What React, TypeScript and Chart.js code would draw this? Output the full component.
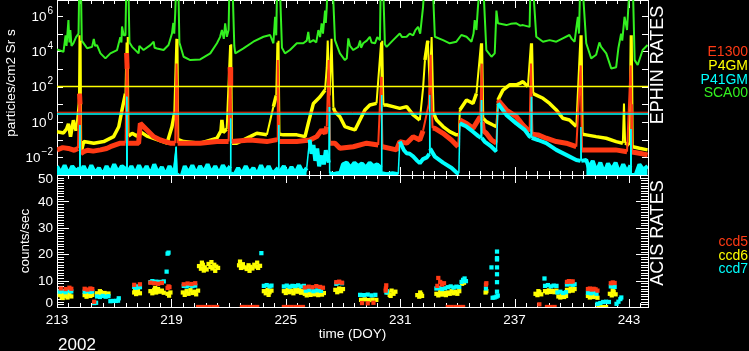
import React, { useEffect, useRef } from "react";
import { Chart, registerables } from "chart.js";

Chart.register(...registerables);

// ---------- axis / label data ----------
const DOY_MIN = 213;
const DOY_MAX = 244;
const doyTickLabels = [213, 219, 225, 231, 237, 243];
const ephinTickExps = [6, 4, 2, 0, -2];
const ephinDecades = [-3, -2, -1, 0, 1, 2, 3, 4, 5, 6];
const acisTickLabels = [0, 10, 20, 30, 40, 50];
const ephinLegend = ["E1300", "P4GM", "P41GM", "SCA00"];
const acisLegend = ["ccd5", "ccd6", "ccd7"];
const YEAR_LABEL = "2002";
const X_TITLE = "time (DOY)";
const Y_TITLE_TOP = "particles/cm2 Sr s";
const Y_TITLE_BOT = "counts/sec";
const PANEL_TOP = "EPHIN RATES";
const PANEL_BOT = "ACIS RATES";

// ---------- EPHIN rates: [DOY, log10(particles/cm2 Sr s)] ----------
const sca00: number[][] = [
  [213.0, 4.1], [213.34, 3.97], [213.45, 4.9], [213.5, 4.3], [213.6, 5.76], [213.65, 4.5], [213.7, 5.2], [213.76, 4.3], [213.86, 4.45],
  [214.0, 4.8], [214.13, 5.0], [214.17, 8], [214.25, 8], [214.3, 4.6], [214.4, 4.45], [214.58, 4.17], [214.84, 4.25],
  [214.93, 4.7], [215.0, 4.3], [215.1, 4.35], [215.28, 3.88], [215.54, 3.6], [215.8, 3.88], [216.15, 4.07], [216.32, 4.8],
  [216.38, 4.5], [216.41, 5.4], [216.5, 4.9], [216.59, 4.9], [216.64, 8], [216.74, 8], [216.8, 4.5], [216.94, 4.25],
  [217.28, 3.88], [217.32, 4.3], [217.37, 4.25], [217.54, 4.07], [217.9, 4.35], [218.07, 4.54], [218.12, 4.2], [218.25, 4.16],
  [218.59, 4.07], [218.85, 4.35], [219.03, 5.0], [219.1, 5.6], [219.15, 5.0], [219.2, 6.14], [219.26, 8], [219.36, 8],
  [219.42, 4.5], [219.64, 3.69], [219.99, 3.5], [220.51, 3.54], [221.04, 3.88], [221.39, 4.45], [221.55, 4.8], [221.65, 5.2],
  [221.75, 4.7], [221.82, 5.58], [221.91, 4.82], [222.0, 5.2], [222.05, 8], [222.2, 8], [222.3, 4.3], [222.35, 3.88],
  [222.78, 4.16], [223.3, 4.54], [223.83, 4.82], [224.18, 4.92], [224.35, 4.45], [224.44, 5.95], [224.5, 4.9],
  [224.55, 8], [224.68, 8], [224.8, 4.2], [224.96, 3.88], [225.22, 4.07], [225.58, 4.45], [225.92, 4.45], [226.1, 4.6],
  [226.18, 5.1], [226.25, 4.5], [226.45, 4.63], [226.6, 4.5], [226.71, 5.2], [226.8, 4.8], [226.88, 5.58], [226.95, 5.0],
  [227.06, 6.3], [227.1, 5.6], [227.15, 6.5], [227.2, 8], [227.45, 8], [227.58, 4.63], [227.84, 3.88], [228.1, 3.5],
  [228.2, 3.6], [228.28, 4.73], [228.37, 4.3], [228.54, 4.07], [228.8, 4.25], [228.9, 4.6], [228.95, 4.2], [229.06, 4.45],
  [229.25, 4.6], [229.41, 4.82], [229.5, 4.5], [229.68, 4.45], [229.8, 4.8], [229.94, 4.63], [229.98, 8], [230.1, 8],
  [230.2, 4.4], [230.29, 4.25], [230.63, 4.63], [230.98, 5.0], [231.1, 4.8], [231.34, 4.82], [231.5, 5.0], [231.68, 4.9],
  [231.8, 5.2], [231.94, 5.38], [232.05, 5.0], [232.2, 6.5], [232.29, 8], [232.7, 8], [232.82, 4.82], [233.25, 4.63],
  [233.6, 4.45], [233.95, 4.54], [234.21, 4.92], [234.48, 4.82], [234.74, 4.54], [234.85, 5.0], [234.91, 5.76],
  [235.0, 5.2], [235.08, 6.5], [235.2, 8], [235.35, 8], [235.52, 4.07], [235.79, 3.69], [235.96, 3.88], [236.05, 6.3],
  [236.13, 5.58], [236.57, 5.48], [236.8, 5.55], [237.09, 5.58], [237.3, 5.45], [237.44, 5.48], [237.79, 5.38],
  [237.84, 8], [237.95, 8], [238.14, 4.82], [238.49, 4.54], [238.84, 4.63], [239.19, 4.54], [239.53, 4.73], [239.88, 4.92],
  [240.0, 4.7], [240.15, 4.54], [240.25, 5.4], [240.32, 5.95], [240.38, 5.0], [240.45, 8], [240.55, 8], [240.76, 4.45],
  [241.02, 3.6], [241.28, 3.8], [241.45, 4.5], [241.54, 4.25], [241.81, 3.88], [242.07, 3.03], [242.33, 3.1],
  [242.45, 4.2], [242.59, 5.0], [242.65, 4.6], [242.77, 5.95], [242.9, 5.2], [243.05, 8], [243.2, 8], [243.3, 3.5],
  [243.46, 3.22], [243.72, 4.07], [243.98, 4.35],
];

const p4gm: number[][] = [
  [213.0, -0.55], [213.34, -0.62], [213.5, -0.4], [213.6, -0.1], [213.71, -0.83], [213.86, 0.1], [214.0, -0.5],
  [214.15, 1.24], [214.18, 4.9], [214.21, 0.8], [214.24, 4.6], [214.27, -1.7], [214.4, -1.11],
  [214.93, -1.2], [215.45, -1.11], [215.97, -0.83], [216.24, -0.27], [216.41, 0.68], [216.59, 1.6], [216.65, 4.5],
  [216.68, 2.0], [216.71, 4.8], [216.75, -0.8], [216.94, -0.64], [217.2, -0.8], [217.37, -0.55],
  [217.72, -0.8], [218.25, -1.0], [218.77, -1.2], [219.03, -0.27], [219.15, 0.42], [219.26, 4.7], [219.29, 2.5],
  [219.32, 4.7], [219.36, -1.0], [219.64, -1.11], [220.51, -1.2], [221.39, -0.92], [221.6, -0.5], [221.65, 0.11],
  [221.72, -0.6], [221.9, -0.4], [222.08, 4.35], [222.11, 1.5], [222.14, 4.4], [222.18, -1.2], [222.43, -1.2],
  [223.13, -0.83], [223.48, -0.64], [224.01, -0.72], [224.35, 0.86], [224.5, 1.5], [224.56, 4.5], [224.59, 2.0],
  [224.62, 4.6], [224.67, -0.7], [224.87, -0.73], [225.58, -0.73], [226.01, -0.83], [226.18, -0.08], [226.45, 1.05],
  [226.8, 1.43], [227.06, 1.8], [227.15, 3.1], [227.2, 4.6], [227.3, 1.5], [227.4, 4.7], [227.5, 0.8], [227.58, 0.58],
  [227.84, 0.3], [228.1, -0.26], [228.37, -0.36], [228.63, -0.45], [228.89, 0.11], [229.15, 0.68], [229.41, 0.96],
  [229.76, 1.05], [230.0, 4.5], [230.03, 2.0], [230.06, 4.6], [230.12, 0.96], [230.29, 0.96], [230.63, 0.87], [230.98, 0.77],
  [231.34, 0.87], [231.68, 0.4], [232.03, 0.11], [232.2, 1.9], [232.3, 3.5], [232.45, 4.6], [232.55, 2.0],
  [232.65, 4.8], [232.75, 0.5], [232.91, 0.11], [233.25, -0.26], [233.6, -0.55], [233.95, -0.73], [234.08, -0.73],
  [234.13, 0.68], [234.48, 1.24], [234.82, 1.05], [235.0, 1.6], [235.24, 4.45], [235.27, 2.0], [235.3, 4.45],
  [235.36, 0.2], [235.52, 0.02], [235.87, -0.17], [236.05, -0.26], [236.13, 1.24], [236.39, 1.8], [236.74, 2.1],
  [237.09, 2.1], [237.3, 2.2], [237.44, 2.28], [237.7, 2.0], [237.86, 4.45], [237.89, 2.5], [237.92, 4.45],
  [237.98, 1.6], [238.14, 1.52], [238.49, 1.34], [238.84, 1.05], [239.19, 0.68], [239.53, 0.21], [239.88, 0.11],
  [240.24, -0.26], [240.46, 4.9], [240.49, 2.0], [240.52, 4.9], [240.57, -0.7], [240.76, -0.73], [241.28, -0.83],
  [241.81, -0.92], [242.33, -1.11], [242.68, -1.2], [242.74, 1.05], [242.8, -1.2], [243.03, -1.3], [243.09, 4.9],
  [243.12, 2.0], [243.15, 4.9], [243.2, -1.4], [243.55, -1.49], [243.98, -1.58],
];

const e1300: number[][] = [
  [213.0, -1.58], [213.3, -1.45], [213.6, -1.5], [213.9, -1.6], [214.1, -1.5], [214.18, 1.6], [214.21, 1.0],
  [214.24, -1.8], [214.4, -1.68], [214.6, -1.6], [214.9, -1.65], [215.28, -1.58], [215.6, -1.5], [215.8, -1.4],
  [216.32, -1.2], [216.6, -1.2], [216.65, 3.9], [216.68, 3.0], [216.71, -1.2], [217.0, -1.2], [217.28, -1.2],
  [217.37, -0.08], [217.72, -0.45], [218.07, -0.83], [218.42, -1.02], [218.94, -1.2], [219.2, -1.2], [219.27, 3.3],
  [219.3, 2.0], [219.33, -1.2], [219.64, -1.2], [220.51, -1.2], [221.39, -1.11], [222.0, -1.11], [222.08, 3.1],
  [222.11, 2.0], [222.15, -1.11], [223.13, -1.02], [224.01, -1.11], [224.55, -1.0], [224.58, 3.5], [224.61, 2.0],
  [224.65, -1.11], [225.58, -1.11], [226.27, -1.02], [226.62, -0.83], [226.88, -0.45], [227.06, -0.64],
  [227.15, -0.26], [227.25, 3.5], [227.28, 2.0], [227.32, -1.2], [227.58, -1.2], [227.84, -1.49], [228.54, -1.4],
  [229.24, -1.2], [229.85, -1.3], [230.0, 2.55], [230.03, 1.0], [230.07, -1.4], [230.81, -1.58], [230.98, -1.11],
  [231.34, -1.2], [231.68, -0.83], [232.03, -1.02], [232.2, -0.5], [232.5, 1.0], [232.6, 3.8], [232.64, 1.5],
  [232.7, -0.36], [232.82, -0.36], [233.25, -0.64], [233.69, -1.02], [234.04, -1.4], [234.13, 0.11], [234.48, -0.08],
  [234.82, -0.36], [235.2, 0.3], [235.28, 3.3], [235.31, 0.0], [235.36, -0.5], [235.52, -0.64], [235.79, -1.02], [236.05, -1.2],
  [236.13, 1.24], [236.57, 0.68], [237.09, 0.3], [237.44, -0.17], [237.79, -0.55], [237.86, 3.3], [237.9, 1.0],
  [237.94, -0.7], [238.23, -0.73], [238.66, -0.92], [239.19, -1.11], [239.71, -1.2], [240.24, -1.4], [240.47, 3.2],
  [240.5, 1.0], [240.54, -1.58], [240.76, -1.58], [241.5, -1.58], [242.3, -1.58], [242.9, -1.68], [243.09, 3.2],
  [243.12, 1.0], [243.16, -1.7], [243.55, -1.77], [243.98, -1.86],
];

const p41gm: number[][] = [
  [213.0, -2.5], [213.2, -2.9], [213.4, -2.45], [213.6, -2.95], [213.8, -2.5], [214.0, -2.8], [214.18, -2.6],
  [214.2, -0.17], [214.22, -2.9], [214.4, -2.5], [214.6, -2.95], [214.8, -2.45], [215.0, -2.9], [215.2, -2.6],
  [215.4, -3.0], [215.6, -2.5], [215.8, -2.9], [216.0, -2.4], [216.2, -2.85], [216.4, -2.5], [216.64, -2.7],
  [216.66, 1.43], [216.68, -2.9], [216.9, -2.5], [217.1, -2.95], [217.3, -2.45], [217.5, -2.9], [217.7, -2.5],
  [217.9, -3.0], [218.1, -2.4], [218.3, -2.9], [218.5, -2.55], [218.7, -3.0], [218.9, -2.5], [219.1, -2.9],
  [219.25, -1.4], [219.3, -2.95], [219.5, -3.2], [219.7, -2.5], [219.9, -2.9], [220.1, -2.45], [220.3, -2.95],
  [220.5, -2.5], [220.7, -2.85], [220.9, -2.4], [221.1, -2.9], [221.3, -2.5], [221.5, -2.95], [221.7, -2.45],
  [221.9, -2.8], [222.08, -2.5], [222.1, 0.2], [222.12, -2.9], [222.3, -3.0], [222.5, -2.6], [222.7, -2.95],
  [222.9, -2.5], [223.1, -2.9], [223.3, -2.6], [223.5, -3.0], [223.7, -2.45], [223.9, -2.9], [224.1, -2.5],
  [224.3, -2.95], [224.6, -2.6], [224.62, -0.17], [224.64, -2.9], [224.9, -2.5], [225.1, -2.95], [225.3, -2.55],
  [225.5, -2.9], [225.7, -2.45], [225.9, -2.9], [226.1, -2.6], [226.25, -1.0], [226.35, -1.8], [226.45, -1.3],
  [226.55, -2.2], [226.65, -1.5], [226.75, -2.5], [226.9, -1.9], [227.0, -2.4], [227.1, -1.6], [227.26, -2.3],
  [227.28, 0.85], [227.3, -2.9], [227.5, -2.95], [227.7, -2.9], [227.84, -2.95], [228.0, -2.4], [228.2, -2.3],
  [228.4, -2.6], [228.6, -2.3], [228.8, -2.5], [229.0, -2.35], [229.2, -2.6], [229.4, -2.3], [229.6, -2.5],
  [229.8, -2.4], [230.0, -2.6], [230.02, 1.52], [230.04, -2.9], [230.3, -2.95], [230.6, -2.9], [230.9, -2.95],
  [230.98, -1.11], [231.2, -1.6], [231.34, -1.77], [231.5, -1.8], [231.68, -1.95], [231.9, -2.2], [232.03, -2.33],
  [232.2, -2.1], [232.4, -2.0], [232.53, -1.8], [232.55, 1.52], [232.57, -1.5], [232.82, -1.96], [233.25, -2.3], [233.7, -2.6],
  [234.0, -2.9], [234.08, -2.9], [234.13, -0.08], [234.48, -0.26], [234.82, -0.55], [235.1, -0.8], [235.24, -0.9], [235.26, 1.24],
  [235.28, -0.9], [235.43, -1.11], [235.79, -1.4], [236.05, -1.68], [236.13, 1.05], [236.57, 0.4], [237.09, -0.08],
  [237.53, -0.45], [237.79, -0.83], [237.86, -0.85], [237.88, 1.43], [237.9, -0.9], [238.23, -1.02], [238.66, -1.2],
  [239.19, -1.58], [239.71, -1.86], [240.24, -2.15], [240.46, -2.2], [240.48, -0.28], [240.5, -2.2], [240.76, -2.15],
  [240.9, -2.6], [241.1, -2.2], [241.3, -2.8], [241.5, -2.3], [241.7, -2.9], [241.9, -2.35], [242.1, -2.7],
  [242.3, -2.3], [242.5, -2.9], [242.7, -2.4], [242.9, -2.85], [243.08, -2.45], [243.1, -0.4], [243.12, -3.0],
  [243.35, -3.0], [243.55, -2.4], [243.75, -2.7], [243.98, -2.5],
];
// quiet (background-level) intervals of P41GM, in DOY
const p41gmQuiet: number[][] = [[213.0, 226.15], [227.3, 230.95], [240.7, 244.0]];

// horizontal reference levels (log10)
const p4gmLimitLog = 2;
const e1300LimitLog = 0.55;
const p41gmLimitLog = 0.45;

// ---------- ACIS rates: [DOY, counts/sec] ----------
const ccd5: number[][] = [
  [213.2, 7.0], [213.45, 6.8], [213.65, 7.3], [213.75, 6.9],
  [214.45, 6.9], [214.6, 6.6], [214.75, 7.0], [214.85, 6.8], [214.95, 2.0],
  [217.05, 8.4], [217.35, 8.6],
  [217.9, 9.2], [218.1, 9.0], [218.3, 8.8], [218.5, 9.1],
  [218.8, 7.2], [218.85, 7.8], [218.9, 7.5],
  [219.65, 8.6], [219.85, 8.9], [220.05, 8.7], [220.25, 9.0],
  [226.0, 7.4], [226.2, 7.7], [226.4, 7.5], [226.6, 7.9], [226.8, 7.6], [226.95, 7.3],
  [227.65, 9.4], [227.8, 9.6], [227.95, 9.2],
  [229.0, 1.5], [229.3, 1.4], [229.6, 1.6],
  [230.24, 6.2], [230.25, 7.0], [230.27, 8.2],
  [232.95, 8.0], [233.0, 11.0], [233.1, 9.5], [233.2, 8.5], [233.3, 9.0],
  [235.5, 8.5], [235.52, 9.0],
  [238.3, 1.0],
  [239.75, 9.5], [239.85, 9.8], [239.95, 9.6], [240.05, 9.7],
  [240.85, 6.8], [240.95, 7.0], [241.05, 6.6], [241.15, 6.9], [241.25, 6.7], [241.35, 6.2],
  [242.05, 9.0], [242.15, 9.3], [242.25, 9.1],
  [220.4, 0], [220.6, 0], [220.8, 0], [221.0, 0], [221.2, 0], [221.4, 0],
  [222.7, 0], [222.9, 0], [223.1, 0], [223.3, 0], [223.5, 0],
  [224.9, 0], [225.1, 0], [225.3, 0], [225.5, 0], [225.7, 0], [225.9, 0],
  [233.5, 0], [233.7, 0], [233.9, 0], [234.1, 0], [234.3, 0],
  [238.7, 0], [238.9, 0], [239.1, 0],
];

const ccd6: number[][] = [
  [213.15, 4.5], [213.25, 3.8], [213.35, 5.0], [213.45, 4.2], [213.55, 3.6], [213.65, 4.8], [213.75, 4.0], [213.3, 3.4], [213.6, 5.3],
  [214.45, 4.5], [214.55, 3.9], [214.65, 4.8], [214.75, 4.2], [214.85, 4.6], [214.6, 5.0],
  [215.1, 5.2], [215.2, 4.6], [215.3, 5.6], [215.4, 4.9], [215.5, 5.3], [215.6, 4.7], [215.7, 5.1], [215.25, 6.0],
  [217.05, 5.5], [217.15, 4.9], [217.25, 6.2], [217.35, 5.2], [217.1, 6.8],
  [217.9, 6.0], [218.0, 5.2], [218.1, 6.5], [218.2, 5.5], [218.3, 6.8], [218.4, 5.8], [218.5, 6.2], [218.6, 5.4], [218.15, 7.2],
  [218.8, 5.0], [218.88, 4.3], [218.95, 5.5],
  [219.6, 5.5], [219.7, 4.6], [219.8, 6.0], [219.9, 5.0], [220.0, 6.4], [220.1, 5.3], [220.2, 5.8], [220.3, 4.8], [220.4, 6.2],
  [220.45, 15.5], [220.55, 14.5], [220.65, 16.0], [220.75, 15.0], [220.85, 14.2], [220.95, 16.3], [221.05, 15.2],
  [221.15, 14.6], [221.25, 16.0], [221.35, 15.3], [221.45, 14.8], [220.7, 13.8], [221.1, 17.0], [221.3, 13.7], [220.6, 16.8],
  [222.55, 15.8], [222.65, 14.8], [222.75, 16.2], [222.85, 15.0], [222.95, 14.4], [223.05, 15.8], [223.15, 15.2],
  [223.25, 14.6], [223.35, 16.0], [223.45, 15.3], [223.55, 14.8], [223.65, 15.6], [222.6, 17.2], [223.1, 13.7], [223.5, 16.8],
  [223.85, 6.0], [223.95, 5.2], [224.05, 6.5], [224.15, 5.6], [224.25, 6.2], [224.1, 4.6],
  [224.9, 6.0], [225.0, 5.3], [225.1, 6.5], [225.2, 5.6], [225.3, 6.2], [225.4, 5.2], [225.5, 6.4], [225.6, 5.8], [225.7, 6.6], [225.8, 5.4], [225.9, 6.0],
  [226.0, 5.0], [226.1, 4.4], [226.2, 5.4], [226.3, 4.6], [226.4, 5.2], [226.5, 4.8], [226.6, 5.5], [226.7, 4.5], [226.8, 5.0], [226.9, 4.7], [227.0, 5.3],
  [227.6, 6.5], [227.7, 5.6], [227.8, 7.0], [227.9, 6.0], [228.0, 6.8],
  [228.95, 2.7], [229.15, 2.9], [229.35, 2.6], [229.55, 2.8], [229.75, 2.7],
  [230.35, 5.5], [230.45, 4.6], [230.55, 6.2], [230.65, 5.0], [230.75, 5.8], [230.5, 4.2],
  [231.9, 4.5], [232.0, 3.9], [232.1, 4.8], [232.15, 4.2], [232.05, 5.5],
  [232.9, 5.0], [233.0, 4.4], [233.1, 5.6], [233.2, 4.7], [233.3, 5.3], [233.4, 4.5],
  [233.5, 5.5], [233.6, 5.0], [233.7, 6.0], [233.8, 5.2], [233.9, 5.8], [234.0, 5.0], [234.1, 6.0],
  [234.25, 8.8], [234.35, 9.2],
  [235.48, 5.5], [235.52, 6.0],
  [238.1, 5.0], [238.2, 4.5], [238.3, 5.6], [238.4, 4.8], [238.25, 6.0],
  [238.6, 6.0], [238.7, 5.5], [238.8, 6.3], [238.9, 5.7], [239.0, 6.1], [239.1, 5.6], [239.2, 6.2],
  [239.3, 4.0], [239.4, 3.6], [239.5, 4.4], [239.6, 3.8], [239.7, 4.2],
  [239.75, 6.5], [239.85, 6.0], [239.95, 7.0], [240.05, 6.2], [240.15, 6.8],
  [240.85, 4.2], [240.95, 3.6], [241.05, 4.5], [241.15, 3.8], [241.25, 4.3], [241.35, 3.5],
  [242.0, 5.0], [242.1, 4.4], [242.2, 5.8], [242.3, 4.8], [242.15, 6.3],
  [241.4, 0], [241.6, 0], [241.8, 0],
];

const ccd7: number[][] = [
  [213.15, 5.8], [213.3, 6.0], [213.45, 5.6], [213.6, 6.2], [213.75, 5.9],
  [214.45, 5.8], [214.6, 6.0], [214.75, 5.7], [214.85, 5.9],
  [215.1, 4.0], [215.25, 3.8], [215.4, 4.2], [215.55, 3.9], [215.7, 4.1],
  [214.95, 1.5], [215.05, 1.6], [215.8, 2.2], [215.95, 2.3], [216.1, 2.3], [216.2, 2.4], [216.24, 3.3],
  [217.05, 7.6], [217.15, 7.3], [217.25, 7.8], [217.35, 7.5],
  [217.9, 9.4], [218.0, 9.8], [218.1, 9.2], [218.2, 9.6], [218.3, 9.0], [218.4, 9.5], [218.5, 9.3], [218.6, 9.7],
  [218.8, 20.2], [218.85, 20.6], [218.75, 13.4],
  [219.65, 8.0], [219.8, 7.8], [219.95, 8.2], [220.1, 7.9], [220.25, 8.1],
  [223.72, 20.4],
  [223.85, 8.0], [224.0, 8.3], [224.15, 7.8], [224.25, 8.1],
  [224.9, 7.8], [225.05, 8.1], [225.2, 7.7], [225.35, 8.0], [225.5, 7.9], [225.65, 8.2], [225.8, 7.8], [225.95, 8.0],
  [226.05, 6.2], [226.25, 6.4], [226.45, 6.0], [226.65, 6.3], [226.85, 6.1],
  [227.65, 8.8], [227.8, 9.2], [227.95, 9.0],
  [228.9, 4.6], [229.1, 4.5], [229.3, 4.7], [229.5, 4.4], [229.7, 4.6],
  [230.28, 5.5], [230.3, 6.0],
  [232.9, 7.0], [233.05, 7.2], [233.2, 6.8], [233.35, 7.1],
  [233.5, 7.5], [233.65, 7.8], [233.8, 7.4], [233.95, 7.7], [234.1, 7.6],
  [234.22, 9.5], [234.3, 10.3], [234.38, 10.8], [234.45, 9.8],
  [235.5, 7.0],
  [235.79, 15.0], [236.08, 5.8], [236.08, 9.4], [236.08, 12.4], [236.08, 15.0], [236.08, 18.0], [236.08, 18.5], [236.08, 21.0],
  [235.85, 3.5], [235.95, 3.6], [236.05, 3.9], [236.12, 4.3],
  [238.57, 10.8],
  [238.6, 8.0], [238.75, 8.3], [238.9, 7.8], [239.05, 8.1], [239.2, 8.0],
  [239.25, 5.5], [239.4, 5.8], [239.55, 5.3], [239.7, 5.6],
  [239.75, 8.5], [239.9, 8.8], [240.05, 8.4], [240.15, 8.6],
  [240.85, 5.4], [241.0, 5.2], [241.15, 5.5], [241.3, 5.0],
  [242.05, 7.8], [242.15, 8.0], [242.25, 7.6],
  [241.35, 1.2], [241.5, 1.5], [241.65, 1.9], [241.8, 2.0], [241.95, 1.9],
  [242.35, 1.2], [242.45, 2.0], [242.55, 3.0], [242.6, 3.6],
];

// ---------- styles ----------
const RED = "#ff3a14";
const YELLOW = "#ffff00";
const CYAN = "#00ffff";
const GREEN = "#33f020";
const WHITE = "#ffffff";
const FONT = '"Liberation Sans", "DejaVu Sans", sans-serif';

const W = 749;
const H = 351;
const PLOT_LEFT = 57;
const PLOT_RIGHT = 648;
const TOP_BOTTOM = 175;
const BOT_BOTTOM = 307;

const logPts = (arr: number[][]) => arr.map(([x, e]) => ({ x, y: Math.pow(10, e) }));
const linPts = (arr: number[][]) => arr.map(([x, y]) => ({ x, y }));
const levelPts = (e: number) => [{ x: DOY_MIN, y: Math.pow(10, e) }, { x: DOY_MAX, y: Math.pow(10, e) }];
const quietPts = (arr: number[][], spans: number[][]) => {
  const out: any[] = [];
  for (const [s, e] of spans) {
    for (const [x, v] of arr) if (x >= s && x <= e) out.push({ x, y: Math.pow(10, v) });
    out.push({ x: e + 0.001, y: null });
  }
  return out;
};

function drawXTicks(ctx: CanvasRenderingContext2D, chart: any) {
  const a = chart.chartArea;
  const xs = chart.scales.x;
  ctx.beginPath();
  for (let k = 0; k <= 51; k++) {
    const v = DOY_MIN + k * 0.6;
    if (v > DOY_MAX) break;
    const px = Math.round(xs.getPixelForValue(v)) + 0.5;
    const len = k % 10 === 0 ? 8 : 4;
    ctx.moveTo(px, a.top);
    ctx.lineTo(px, a.top + len);
    ctx.moveTo(px, a.bottom);
    ctx.lineTo(px, a.bottom - len);
  }
  ctx.stroke();
}

function drawFrame(ctx: CanvasRenderingContext2D, a: any) {
  ctx.strokeRect(a.left + 0.5, a.top + 0.5, a.right - a.left, a.bottom - a.top);
}

function drawRotated(ctx: CanvasRenderingContext2D, text: string, x: number, y: number, font: string, color: string) {
  ctx.save();
  ctx.translate(x, y);
  ctx.rotate(-Math.PI / 2);
  ctx.font = font;
  ctx.fillStyle = color;
  ctx.textAlign = "center";
  ctx.textBaseline = "middle";
  ctx.fillText(text, 0, 0);
  ctx.restore();
}

const topDecor = {
  id: "topDecor",
  beforeDatasetsDraw(chart: any) {
    const { ctx, chartArea: a } = chart;
    const ys = chart.scales.y;
    ctx.save();
    ctx.strokeStyle = WHITE;
    ctx.lineWidth = 1;
    drawFrame(ctx, a);
    drawXTicks(ctx, chart);
    ctx.beginPath();
    for (const e of ephinDecades) {
      const py = Math.round(ys.getPixelForValue(Math.pow(10, e))) + 0.5;
      ctx.moveTo(a.left, py);
      ctx.lineTo(a.left + 6, py);
      ctx.moveTo(a.right, py);
      ctx.lineTo(a.right - 6, py);
    }
    ctx.stroke();
    ctx.restore();
  },
  afterDraw(chart: any) {
    const { ctx } = chart;
    const ys = chart.scales.y;
    ctx.save();
    ctx.fillStyle = WHITE;
    ctx.textBaseline = "middle";
    ctx.textAlign = "left";
    for (const e of ephinTickExps) {
      const py = ys.getPixelForValue(Math.pow(10, e));
      const expText = e < 0 ? "\u2212" + Math.abs(e) : String(e);
      ctx.font = `10px ${FONT}`;
      const w2 = ctx.measureText(expText).width;
      ctx.font = `13.5px ${FONT}`;
      const w1 = ctx.measureText("10").width;
      const right = 53;
      ctx.fillText("10", right - w2 - w1 - 1, py + 1);
      ctx.font = `10px ${FONT}`;
      ctx.fillText(expText, right - w2, py - 5);
    }
    drawRotated(ctx, Y_TITLE_TOP, 11, 83, `13.5px ${FONT}`, WHITE);
    drawRotated(ctx, PANEL_TOP, 658, 65, `18px ${FONT}`, WHITE);
    const colors = [RED, YELLOW, CYAN, GREEN];
    const ly = [52, 66, 80, 93.5];
    ctx.font = `14px ${FONT}`;
    ctx.textAlign = "right";
    ephinLegend.forEach((t, i) => {
      ctx.fillStyle = colors[i];
      ctx.fillText(t, 748, ly[i]);
    });
    ctx.restore();
  },
};

const botDecor = {
  id: "botDecor",
  beforeDatasetsDraw(chart: any) {
    const { ctx, chartArea: a } = chart;
    const ys = chart.scales.y;
    ctx.save();
    ctx.strokeStyle = WHITE;
    ctx.lineWidth = 1;
    drawFrame(ctx, a);
    drawXTicks(ctx, chart);
    ctx.beginPath();
    for (let v = 1; v < 50; v++) {
      const py = Math.round(ys.getPixelForValue(v)) + 0.5;
      const len = v % 10 === 0 ? 12 : 7;
      ctx.moveTo(a.left, py);
      ctx.lineTo(a.left + len, py);
      ctx.moveTo(a.right, py);
      ctx.lineTo(a.right - len, py);
    }
    ctx.stroke();
    ctx.restore();
  },
  afterDraw(chart: any) {
    const { ctx } = chart;
    const ys = chart.scales.y;
    const xs = chart.scales.x;
    ctx.save();
    ctx.fillStyle = WHITE;
    ctx.font = `13.5px ${FONT}`;
    ctx.textBaseline = "middle";
    ctx.textAlign = "right";
    for (const v of acisTickLabels) {
      let py = ys.getPixelForValue(v);
      if (v === 0) py -= 4;
      if (v === 50) py += 4;
      ctx.fillText(String(v), 53, py + 0.5);
    }
    ctx.textAlign = "center";
    for (const d of doyTickLabels) {
      ctx.fillText(String(d), xs.getPixelForValue(d), 320);
    }
    ctx.fillText(X_TITLE, (PLOT_LEFT + PLOT_RIGHT) / 2, 334);
    ctx.font = `17px ${FONT}`;
    ctx.fillText(YEAR_LABEL, 77, 345);
    drawRotated(ctx, Y_TITLE_BOT, 25, 241, `13.5px ${FONT}`, WHITE);
    drawRotated(ctx, PANEL_BOT, 658, 233, `18px ${FONT}`, WHITE);
    const colors = [RED, YELLOW, CYAN];
    const ly = [242, 256, 269.5];
    ctx.font = `14px ${FONT}`;
    ctx.textAlign = "right";
    acisLegend.forEach((t, i) => {
      ctx.fillStyle = colors[i];
      ctx.fillText(t, 748, ly[i]);
    });
    ctx.restore();
  },
};

export default function App() {
  const topRef = useRef<HTMLCanvasElement | null>(null);
  const botRef = useRef<HTMLCanvasElement | null>(null);

  useEffect(() => {
    document.body.style.margin = "0";
    document.body.style.background = "#000";
    const lineDs = (label: string, data: any, color: string, width: number, order: number, thin?: number) => ({
      label,
      data,
      borderColor: color,
      backgroundColor: color,
      borderWidth: width,
      pointRadius: 0,
      fill: false,
      tension: 0,
      borderJoinStyle: "bevel",
      clip: 0,
      order,
      segment: thin
        ? { borderWidth: (c: any) => (Math.abs(c.p1.y - c.p0.y) > 20 ? thin : undefined) }
        : undefined,
    });
    const quietFill = {
      label: "P41GM background",
      data: quietPts(p41gm, p41gmQuiet),
      borderColor: CYAN,
      backgroundColor: CYAN,
      borderWidth: 1,
      pointRadius: 0,
      fill: "start",
      spanGaps: false,
      tension: 0,
      clip: 0,
      order: 3,
    };
    const top = new Chart(topRef.current as HTMLCanvasElement, {
      type: "line",
      data: {
        datasets: [
          lineDs("SCA00", logPts(sca00), GREEN, 2, 7),
          lineDs("P4GM", logPts(p4gm), YELLOW, 3.5, 6, 2),
          lineDs("E1300", logPts(e1300), RED, 5, 5, 2),
          lineDs("P41GM", logPts(p41gm), CYAN, 4, 4, 1.5),
          quietFill,
          lineDs("P4GM limit", levelPts(p4gmLimitLog), YELLOW, 1.5, 2),
          lineDs("P41GM limit", levelPts(p41gmLimitLog), CYAN, 1.5, 1),
          lineDs("E1300 limit", levelPts(e1300LimitLog), RED, 1, 0),
        ] as any,
      },
      options: {
        animation: false,
        responsive: false,
        maintainAspectRatio: false,
        events: [],
        layout: { padding: { left: PLOT_LEFT, right: W - PLOT_RIGHT, top: 0, bottom: H - TOP_BOTTOM } },
        scales: {
          x: { type: "linear", min: DOY_MIN, max: DOY_MAX, display: false },
          y: { type: "logarithmic", min: 1e-3, max: Math.pow(10, 6.9), display: false },
        },
        plugins: { legend: { display: false }, tooltip: { enabled: false }, filler: { propagate: false } },
      },
      plugins: [topDecor],
    } as any);

    const ptDs = (label: string, data: any, color: string, order: number) => ({
      label,
      data,
      borderColor: color,
      backgroundColor: color,
      pointStyle: "rect",
      pointRadius: 3,
      pointBorderWidth: 0,
      borderWidth: 0,
      showLine: false,
      clip: { left: 2, right: 2, top: 2, bottom: 0 },
      order,
    });
    const bot = new Chart(botRef.current as HTMLCanvasElement, {
      type: "scatter",
      data: {
        datasets: [
          ptDs("ccd6", linPts(ccd6), YELLOW, 3),
          ptDs("ccd7", linPts(ccd7), CYAN, 2),
          ptDs("ccd5", linPts(ccd5), RED, 1),
        ] as any,
      },
      options: {
        animation: false,
        responsive: false,
        maintainAspectRatio: false,
        events: [],
        layout: { padding: { left: PLOT_LEFT, right: W - PLOT_RIGHT, top: TOP_BOTTOM, bottom: H - BOT_BOTTOM } },
        scales: {
          x: { type: "linear", min: DOY_MIN, max: DOY_MAX, display: false },
          y: { type: "linear", min: 0, max: 50, display: false },
        },
        plugins: { legend: { display: false }, tooltip: { enabled: false } },
      },
      plugins: [botDecor],
    } as any);

    return () => {
      top.destroy();
      bot.destroy();
    };
  }, []);

  const canvasStyle: React.CSSProperties = { position: "absolute", left: 0, top: 0, width: W, height: H };
  return (
    <div style={{ position: "fixed", left: 0, top: 0, width: W, height: H, background: "#000", overflow: "hidden" }}>
      <canvas ref={botRef} width={W} height={H} style={canvasStyle} />
      <canvas ref={topRef} width={W} height={H} style={canvasStyle} />
    </div>
  );
}
